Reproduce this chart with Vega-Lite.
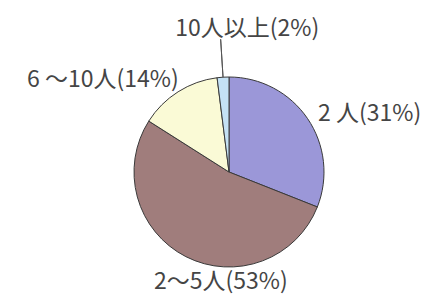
{
  "$schema": "https://vega.github.io/schema/vega-lite/v6.json",
  "width": 408,
  "height": 250,
  "autosize": {"type": "none"},
  "padding": {"left": 25, "top": 47, "right": 0, "bottom": 0},
  "background": "white",
  "config": {"view": {"stroke": null}},
  "data": {
    "values": [
      {"label": "2 人(31%)", "value": 31, "rank": 1},
      {"label": "2～5人(53%)", "value": 53, "rank": 2},
      {"label": "6 ～10人(14%)", "value": 14, "rank": 3},
      {"label": "10人以上(2%)", "value": 2, "rank": 4}
    ]
  },
  "encoding": {
    "theta": {"field": "value", "type": "quantitative", "stack": true},
    "order": {"field": "rank", "type": "quantitative"}
  },
  "layer": [
    {
      "mark": {"type": "arc", "radius": 95, "stroke": "#3a3a3a", "strokeWidth": 1},
      "encoding": {
        "color": {
          "field": "label",
          "type": "nominal",
          "legend": null,
          "scale": {
            "domain": ["2 人(31%)", "2～5人(53%)", "6 ～10人(14%)", "10人以上(2%)"],
            "range": ["#9b97d8", "#a07d7c", "#fafad6", "#c4e1f5"]
          }
        }
      }
    },
    {
      "mark": {"type": "arc", "radius": 133, "radius2": 95, "padAngle": 0.2, "fill": "transparent", "strokeWidth": 1},
      "encoding": {
        "stroke": {"condition": {"test": "datum.rank === 4", "value": "#555"}, "value": "transparent"}
      }
    },
    {
      "mark": {"type": "text", "radius": 110, "align": "left", "baseline": "middle", "dx": -2, "dy": 4, "font": "Noto Sans CJK JP", "fontSize": 23, "color": "#454545"},
      "encoding": {"text": {"condition": {"test": "datum.rank === 1", "field": "label"}, "value": ""}}
    },
    {
      "mark": {"type": "text", "radius": 115, "align": "center", "baseline": "middle", "dx": 44, "dy": 8, "font": "Noto Sans CJK JP", "fontSize": 23, "color": "#454545"},
      "encoding": {"text": {"condition": {"test": "datum.rank === 2", "field": "label"}, "value": ""}}
    },
    {
      "mark": {"type": "text", "radius": 105, "align": "right", "baseline": "middle", "dx": 6, "dy": -3, "font": "Noto Sans CJK JP", "fontSize": 23, "color": "#454545"},
      "encoding": {"text": {"condition": {"test": "datum.rank === 3", "field": "label"}, "value": ""}}
    },
    {
      "mark": {"type": "text", "radius": 140, "align": "center", "baseline": "middle", "dx": 27, "dy": -3, "font": "Noto Sans CJK JP", "fontSize": 23, "color": "#454545"},
      "encoding": {"text": {"condition": {"test": "datum.rank === 4", "field": "label"}, "value": ""}}
    }
  ]
}
